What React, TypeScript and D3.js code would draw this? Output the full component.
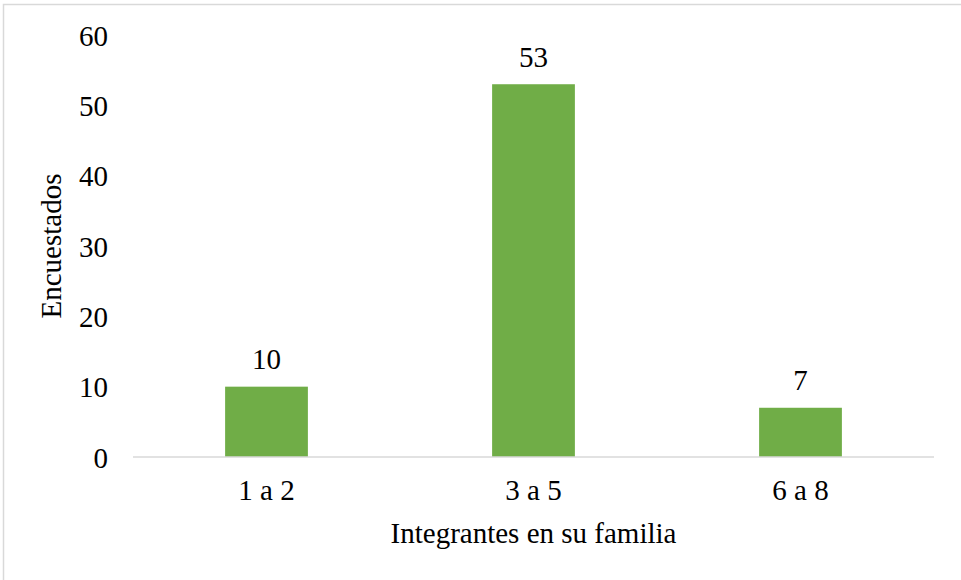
import React from "react";
import * as d3 from "d3";

const categories = ["1 a 2", "3 a 5", "6 a 8"];
const values = [10, 53, 7];
const yTicks = [0, 10, 20, 30, 40, 50, 60];
const xTitle = "Integrantes en su familia";
const yTitle = "Encuestados";

export default function App() {
  const W = 961, H = 580;
  const left = 133, right = 934, top = 35, bottom = 457;
  const x = d3.scaleBand<string>().domain(categories).range([left, right]).paddingInner(0.69).paddingOuter(0.345);
  const y = d3.scaleLinear().domain([0, 60]).range([bottom, top]);
  const font = "Liberation Serif";
  const fs = 29;
  return (
    <svg width={W} height={H} style={{ position: "absolute", left: 0, top: 0, background: "#fff", fontFamily: font }}>
      <rect x={3.5} y={4.5} width={1000} height={700} fill="#fff" stroke="#d9d9d9" strokeWidth={1.5} />
      {yTicks.map((t) => (
        <text key={t} x={108} y={y(t) + 10.5} textAnchor="end" fontSize={fs} fill="#000">
          {t}
        </text>
      ))}
      {categories.map((c, i) => (
        <g key={c}>
          <rect x={x(c)} y={y(values[i])} width={x.bandwidth()} height={bottom - y(values[i])} fill="#70AD47" />
          <text x={x(c)! + x.bandwidth() / 2} y={y(values[i]) - 17.5} textAnchor="middle" fontSize={fs} fill="#000">
            {values[i]}
          </text>
          <text x={x(c)! + x.bandwidth() / 2} y={500} textAnchor="middle" fontSize={fs} fill="#000">
            {c}
          </text>
        </g>
      ))}
      <line x1={left} x2={right} y1={bottom} y2={bottom} stroke="#d9d9d9" strokeWidth={1.5} />
      <text x={(left + right) / 2} y={543} textAnchor="middle" fontSize={fs} fill="#000">
        {xTitle}
      </text>
      <text transform={`translate(61, ${(top + bottom) / 2}) rotate(-90)`} textAnchor="middle" fontSize={fs} fill="#000">
        {yTitle}
      </text>
    </svg>
  );
}
